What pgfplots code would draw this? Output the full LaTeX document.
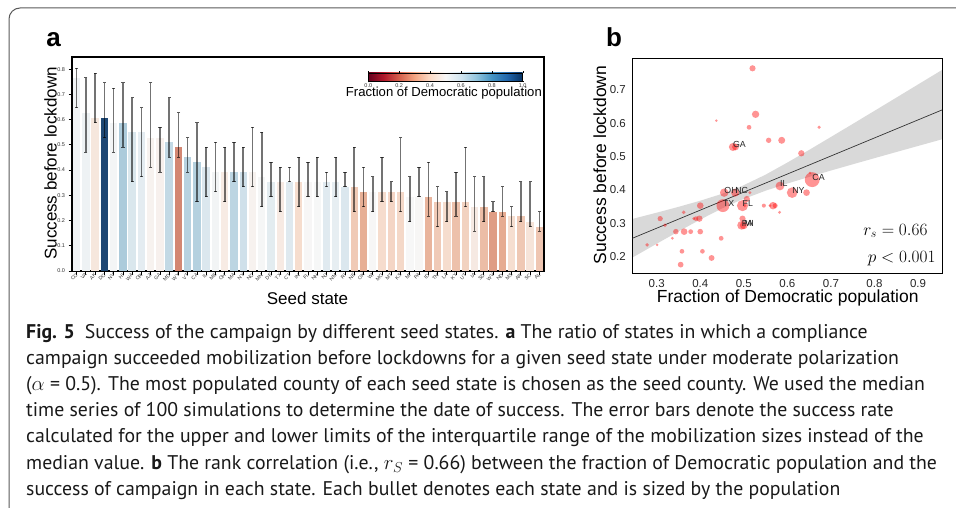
\documentclass[border=0pt]{standalone}
\usepackage{pgfplots}
\pgfplotsset{compat=1.18}
\usepackage{pgfplotstable}
\usepackage{fontspec}
\setmainfont{Liberation Sans}
\newfontfamily\capfont{PT Sans}
\pgfkeys{/pgf/number format/assume math mode=true}
\pgfplotsset{
 colormap={rdbu}{rgb255=(103,0,31) rgb255=(178,24,43) rgb255=(214,96,77) rgb255=(244,165,130) rgb255=(253,219,199) rgb255=(247,247,247) rgb255=(209,229,240) rgb255=(146,197,222) rgb255=(67,147,195) rgb255=(33,102,172) rgb255=(5,48,97)},
 colormap={rdbud}{rgb255=(90,13,36) rgb255=(159,43,58) rgb255=(197,108,94) rgb255=(230,171,144) rgb255=(246,221,206) rgb255=(247,247,247) rgb255=(213,228,236) rgb255=(156,194,213) rgb255=(83,143,179) rgb255=(50,102,155) rgb255=(17,49,86)},
}
\pgfplotstableread{
state succ dem pop
CO 0.765 0.520 5.76
VA 0.627 0.527 8.54
AK 0.608 0.437 0.73
DC 0.608 0.957 0.71
NV 0.588 0.512 3.08
HI 0.588 0.673 1.42
WA 0.549 0.587 7.61
OR 0.549 0.557 4.22
AZ 0.529 0.481 7.28
GA 0.529 0.475 10.62
MD 0.510 0.632 6.05
WY 0.490 0.243 0.58
VT 0.451 0.652 0.62
CA 0.431 0.657 39.51
IL 0.412 0.583 12.67
ME 0.392 0.514 1.34
OH 0.392 0.455 11.69
MA 0.392 0.644 6.89
NY 0.392 0.611 19.45
NC 0.392 0.480 10.49
MN 0.373 0.507 5.64
DE 0.353 0.560 0.97
TX 0.353 0.452 28.99
CT 0.353 0.572 3.57
IN 0.353 0.400 6.73
FL 0.353 0.497 21.48
NH 0.353 0.502 1.36
NJ 0.353 0.567 8.88
NM 0.353 0.546 2.10
RI 0.333 0.582 1.06
NE 0.333 0.362 1.93
OK 0.314 0.308 3.96
WI 0.314 0.497 5.82
MO 0.314 0.398 6.14
MT 0.314 0.385 1.07
KS 0.314 0.390 2.91
MI 0.294 0.500 9.99
PA 0.294 0.495 12.80
ID 0.294 0.319 1.79
TN 0.275 0.363 6.83
LA 0.275 0.400 4.65
KY 0.275 0.344 4.47
UT 0.275 0.378 3.21
IA 0.255 0.448 3.16
SD 0.255 0.336 0.88
WV 0.235 0.278 1.79
ND 0.235 0.301 0.76
MS 0.216 0.405 2.98
AR 0.216 0.358 3.02
SC 0.196 0.426 5.15
AL 0.176 0.355 4.90
}\statetab
% interquartile-based error ranges: bar index, lower / upper limit (nan breaks the line)
\pgfplotstableread{
i e
0 0.647
0 0.804
0 nan
1 0.471
1 0.765
1 nan
2 0.588
2 0.784
2 nan
3 0.529
3 0.745
3 nan
4 0.471
4 0.725
4 nan
5 0.490
5 0.745
5 nan
6 0.353
6 0.686
6 nan
7 0.373
7 0.647
7 nan
8 0.412
8 0.745
8 nan
9 0.392
9 0.569
9 nan
10 0.451
10 0.686
10 nan
11 0.451
11 0.627
11 nan
12 0.392
12 0.529
12 nan
13 0.275
13 0.588
13 nan
14 0.294
14 0.490
14 nan
15 0.314
15 0.510
15 nan
16 0.275
16 0.490
16 nan
17 0.353
17 0.510
17 nan
18 0.333
18 0.490
18 nan
19 0.333
19 0.569
19 nan
20 0.255
20 0.549
20 nan
21 0.294
21 0.431
21 nan
22 0.235
22 0.412
22 nan
23 0.353
23 0.412
23 nan
24 0.255
24 0.451
24 nan
25 0.294
25 0.431
25 nan
26 0.294
26 0.451
26 nan
27 0.333
27 0.392
27 nan
28 0.294
28 0.451
28 nan
29 0.333
29 0.392
29 nan
30 0.235
30 0.490
30 nan
31 0.255
31 0.412
31 nan
32 0.235
32 0.373
32 nan
33 0.275
33 0.451
33 nan
34 0.275
34 0.353
34 nan
35 0.235
35 0.529
35 nan
36 0.196
36 0.373
36 nan
37 0.294
37 0.412
37 nan
38 0.216
38 0.431
38 nan
39 0.176
39 0.333
39 nan
40 0.196
40 0.314
40 nan
41 0.216
41 0.392
41 nan
42 0.255
42 0.490
42 nan
43 0.157
43 0.373
43 nan
44 0.196
44 0.373
44 nan
45 0.235
45 0.275
45 nan
46 0.216
46 0.333
46 nan
47 0.176
47 0.255
47 nan
48 0.196
48 0.353
48 nan
49 0.176
49 0.353
49 nan
50 0.157
50 0.235
50 nan
}\errtab
\pgfplotstableread{
x y lab
0.657 0.431 CA
0.452 0.353 TX
0.497 0.353 FL
0.611 0.392 NY
0.583 0.412 IL
0.455 0.392 OH
0.480 0.392 NC
0.475 0.529 GA
0.495 0.294 PA
0.500 0.294 MI
}\labtab
\begin{document}
\begin{tikzpicture}
\useasboundingbox (0,0) rectangle (956pt,507pt);
% frame
\draw[line width=1pt, black!65] (9pt,-2pt) -- (9pt,488pt) arc[start angle=180, end angle=90, radius=11pt] -- (958pt,499pt);
% panel letters
\node[anchor=base, font=\fontsize{26}{28}\selectfont\bfseries] at (53.7pt,460.3pt) {a};
\node[anchor=base, font=\fontsize{26}{28}\selectfont\bfseries] at (614pt,460pt) {b};
% ---------------- panel a
\begin{axis}[
  at={(72pt,236pt)}, anchor=south west, scale only axis,
  width=472pt, height=214pt,
  xmin=-0.5, xmax=50.5, ymin=0, ymax=0.848,
  colormap name=rdbud, point meta min=0, point meta max=1,
  xtick={0,...,50},
  xticklabels={CO,VA,AK,DC,NV,HI,WA,OR,AZ,GA,MD,WY,VT,CA,IL,ME,OH,MA,NY,NC,MN,DE,TX,CT,IN,FL,NH,NJ,NM,RI,NE,OK,WI,MO,MT,KS,MI,PA,ID,TN,LA,KY,UT,IA,SD,WV,ND,MS,AR,SC,AL},
  ytick={0,0.1,...,0.8},
  xtick pos=lower, ytick pos=left,
  tick align=outside, major tick length=3.5pt,
  tick style={black, line width=0.8pt},
  axis line style={line width=1.1pt},
  unbounded coords=jump,
  yticklabel style={font=\fontsize{5.5}{6}\selectfont, text=black!80, /pgf/number format/fixed, /pgf/number format/fixed zerofill, /pgf/number format/precision=1},
  xticklabel style={font=\fontsize{5}{6}\selectfont, text=black!80, rotate=45, anchor=east, xshift=1.5pt, inner sep=1pt},
  xlabel={Seed state}, ylabel={Success before lockdown},
  label style={font=\fontsize{17}{19}\selectfont},
  xlabel style={at={(axis description cs:0.499,-0.1556)}, anchor=base},
  ylabel style={at={(axis description cs:-0.0324,0.503)}, anchor=base},
]
\pgfplotsinvokeforeach{0,...,50}{
  \pgfplotstablegetelem{#1}{dem}\of\statetab
  \pgfmathsetmacro\cv{1000*\pgfplotsretval}
  \edef\doplot{\noexpand\addplot[ybar, bar width=0.8, color of colormap=\cv, fill, draw=none, forget plot, restrict x to domain=#1:#1]
    table[x expr=\noexpand\coordindex, y=succ] {\noexpand\statetab};}
  \doplot
}
% error bars
\addplot[draw=black, draw opacity=0.55, line width=1.6pt, mark=none, forget plot]
  table[x=i, y=e] {\errtab};
\addplot[only marks, mark=-, mark size=1.6pt, forget plot,
  mark options={draw=black, draw opacity=0.65, line width=1pt}]
  table[x=i, y=e] {\errtab};
\end{axis}
% colorbar
\begin{axis}[
  at={(368.3pt,434.7pt)}, anchor=south west, scale only axis,
  width=154.4pt, height=8pt, hide axis,
  xmin=0, xmax=1, ymin=0, ymax=1,
  colormap name=rdbu, point meta min=0, point meta max=1,
  colorbar horizontal,
  colorbar style={at={(parent axis.south west)}, anchor=south west,
    width=154.4pt, height=8pt, scale only axis,
    xtick={0,0.2,...,1}, major tick length=1.5pt, tick align=outside,
    tick style={black, line width=0.4pt},
    axis line style={line width=0.5pt},
    xticklabel style={font=\fontsize{5.5}{6}\selectfont, text=black!80, inner sep=1.5pt, /pgf/number format/fixed, /pgf/number format/fixed zerofill, /pgf/number format/precision=1}},
]
\addplot[draw=none] coordinates {(0,0) (1,1)};
\end{axis}
\node[anchor=base, font=\fontsize{13.1}{15}\selectfont] at (443.9pt,410.3pt) {Fraction of Democratic population};
% ---------------- panel b
\begin{axis}[
  at={(632.3pt,233.7pt)}, anchor=south west, scale only axis,
  width=309.7pt, height=215pt,
  xmin=0.244, xmax=0.955, ymin=0.15, ymax=0.795,
  xtick={0.3,0.4,...,0.9}, ytick={0.2,0.3,...,0.7},
  major tick length=0pt,
  axis line style={line width=0.9pt},
  ticklabel style={font=\fontsize{11.5}{13}\selectfont, text=black!85, /pgf/number format/fixed, /pgf/number format/fixed zerofill, /pgf/number format/precision=1},
  yticklabel style={xshift=-3pt}, xticklabel style={yshift=-3pt},
  xlabel={Fraction of Democratic population}, ylabel={Success before lockdown},
  label style={font=\fontsize{17.5}{19}\selectfont},
  xlabel style={at={(axis description cs:0.502,-0.135)}, anchor=base},
  ylabel style={at={(axis description cs:-0.0848,0.504)}, anchor=base},
]
\addplot[fill=black, fill opacity=0.15, draw=none]
  coordinates {(0.244,0.197) (0.300,0.2387) (0.350,0.2755) (0.400,0.3112) (0.450,0.3446) (0.490,0.3682) (0.550,0.3978) (0.600,0.4193) (0.650,0.4392) (0.700,0.4583) (0.750,0.4770) (0.800,0.4954) (0.850,0.5138) (0.900,0.5320) (0.955,0.5520)
  (0.955,0.7600) (0.900,0.7165) (0.850,0.6769) (0.800,0.6374) (0.750,0.5981) (0.700,0.5590) (0.650,0.5202) (0.600,0.4822) (0.550,0.4459) (0.490,0.4082) (0.450,0.3884) (0.400,0.3678) (0.350,0.3493) (0.300,0.3319) (0.244,0.3130)} -- cycle;
\addplot[scatter, only marks, mark=*, restrict x to domain=0.25:0.95,
  point meta=\thisrow{dem},
  mark options={draw=none, draw opacity=0, fill=red, fill opacity=0.42},
  scatter/use mapped color={draw=none, draw opacity=0, fill=red, fill opacity=0.42},
  visualization depends on={0.4+1.12*sqrt(\thisrow{pop}) \as \msize},
  scatter/@pre marker code/.append style={/tikz/mark size=\msize}]
  table[x=dem, y=succ] {\statetab};
\addplot[black!80, line width=0.7pt] coordinates {(0.244,0.255) (0.955,0.640)};
\addplot[only marks, mark=none, nodes near coords, point meta=explicit symbolic,
  every node near coord/.append style={anchor=west, inner sep=0pt, yshift=2.3pt, font=\fontsize{8.8}{9}\selectfont, text=black!85}]
  table[x=x, y=y, meta=lab] {\labtab};
\end{axis}
\node[anchor=base east, font=\fontsize{16.5}{18}\selectfont] at (931pt,272pt) {$r_s = 0.66$};
\node[anchor=base east, font=\fontsize{16.5}{18}\selectfont] at (939pt,244.3pt) {$p < 0.001$};
% caption
\begin{scope}[every node/.style={anchor=base west, inner sep=0pt, font=\capfont\fontsize{19.8}{21}\selectfont, text=black!90}]
\node at (26pt,169pt) {\textbf{Fig. 5}\enspace Success of the campaign by different seed states. \textbf{a} The ratio of states in which a compliance};
\node at (26pt,142.8pt) {campaign succeeded mobilization before lockdowns for a given seed state under moderate polarization};
\node at (26pt,116.6pt) {($\alpha$ = 0.5). The most populated county of each seed state is chosen as the seed county. We used the median};
\node at (26pt,90.4pt) {time series of 100 simulations to determine the date of success. The error bars denote the success rate};
\node at (26pt,64.2pt) {calculated for the upper and lower limits of the interquartile range of the mobilization sizes instead of the};
\node at (26pt,38pt) {median value. \textbf{b} The rank correlation (i.e., $r_{S}$ = 0.66) between the fraction of Democratic population and the};
\node at (26pt,11.8pt) {success of campaign in each state. Each bullet denotes each state and is sized by the population};
\end{scope}
\end{tikzpicture}
\end{document}
